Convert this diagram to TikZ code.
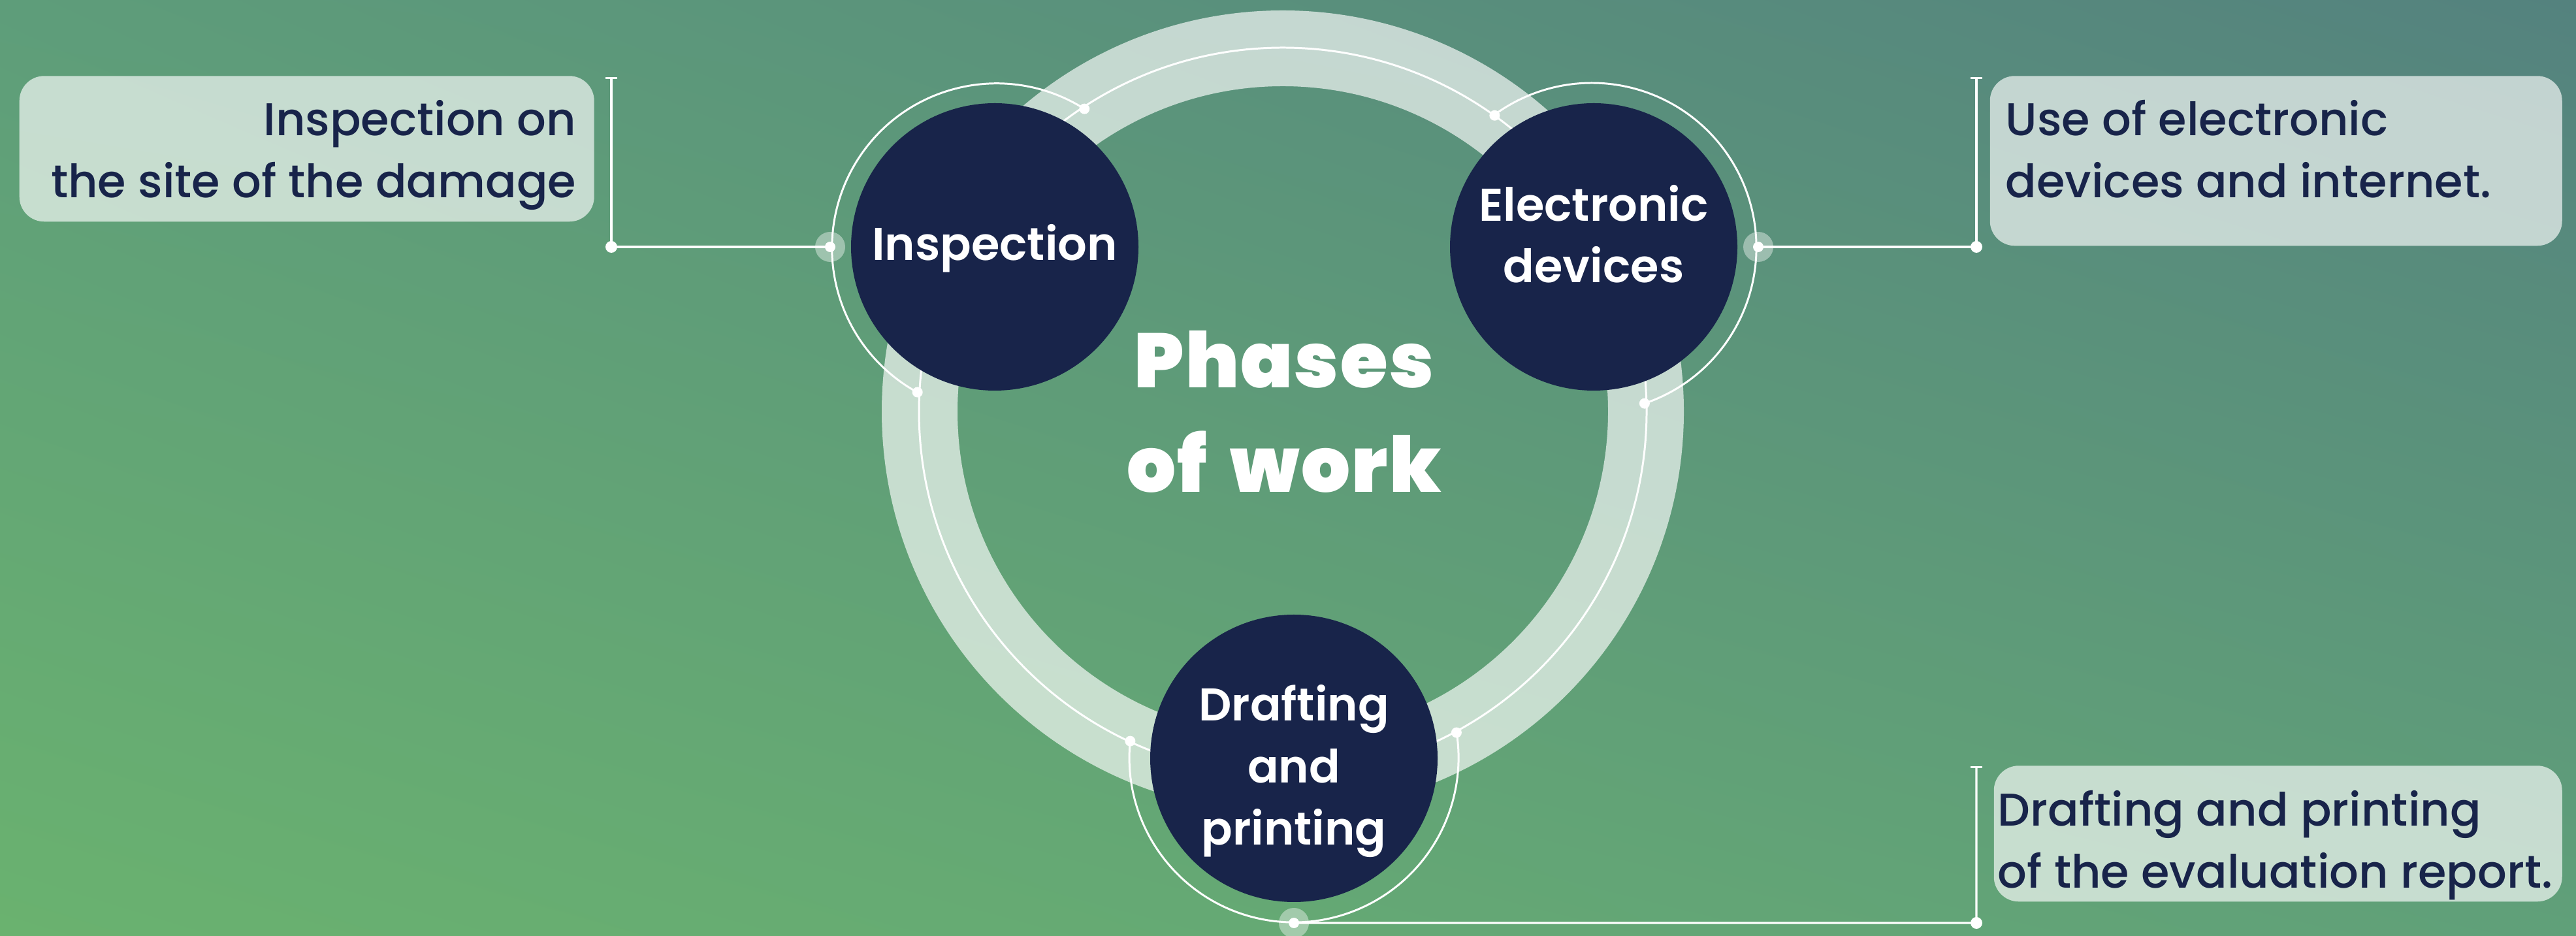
\documentclass[tikz,border=0pt]{standalone}
\usepackage{fontspec}
\setmainfont{Poppins}
\newfontfamily\notefont{Poppins Medium}
\newfontfamily\phasefont{Poppins SemiBold}
\newfontfamily\titlefont{Poppins Black}[LetterSpace=2,WordSpace=1.6]
\usetikzlibrary{arrows.meta,shadings}

\definecolor{navy}{HTML}{18244A}
\definecolor{bgtl}{RGB}{94,157,122}
\definecolor{bgtr}{RGB}{84,130,126}
\definecolor{bgbl}{RGB}{106,178,111}
\definecolor{bgbr}{RGB}{96,160,121}

\begin{document}
\begin{tikzpicture}[
		phase/.style={circle, fill=navy, minimum size=4.4cm, inner sep=0pt, outer sep=0.32cm,
			text=white, align=center, font=\phasefont\fontsize{20}{27}\selectfont},
		ringline/.style={draw=white, line width=0.85pt},
		link/.style={draw=white, line width=0.95pt},
		halo/.style={circle, fill=white, fill opacity=0.4, minimum size=0.46cm, inner sep=0pt},
		notebox/.style={rectangle, rounded corners=0.38cm, fill=white, fill opacity=0.65, inner sep=0pt},
		note/.style={text=navy, font=\notefont\fontsize{20}{27}\selectfont, inner sep=0pt}]
		%Sfondo
		\useasboundingbox (0,0) rectangle (39.44,14.32);
		\shade [upper left=bgtl, upper right=bgtr, lower left=bgbl, lower right=bgbr] (0,0) rectangle (39.44,14.32);
		%Anello
		\coordinate (hub) at (19.64,8.02);
		\draw [white, draw opacity=0.65, line width=1.16cm] (hub) circle (5.56);
		\draw [ringline] (hub) circle (5.57);
		%Fasi
		\node [phase] (ins) at (15.23,10.54) {\rule{0pt}{0.6cm}Inspection};
		\node [phase] (ele) at (24.40,10.54) {Electronic\\devices\rule[-0.4cm]{0pt}{0.4cm}};
		\node [phase] (dra) at (19.81,2.71) {\rule{0pt}{0.94cm}Drafting\\and\\printing};
		\node [text=white, align=center, font=\titlefont\fontsize{33.5}{45.5}\selectfont] (title) at (19.66,8.02) {Phases\\of work};
		%Archi
		\draw [ringline] (ins.57.74) arc [start angle=57.74, end angle=242.78, radius=2.52];
		\draw [ringline] (ele.288.71) arc [start angle=-71.29, end angle=127.09, radius=2.52];
		\draw [ringline] (dra.174.21) arc [start angle=174.21, end angle=369.45, radius=2.52];
		\foreach \a in {57.74,242.78} \fill [white] (ins.\a) circle (0.08);
		\foreach \a in {288.71,127.09} \fill [white] (ele.\a) circle (0.08);
		\foreach \a in {174.21,9.45} \fill [white] (dra.\a) circle (0.08);
		%Collegamenti
		\node [halo] (inshalo) at (ins.west) {};
		\node [halo] (elehalo) at (ele.east) {};
		\node [halo] (drahalo) at (dra.south) {};
		\coordinate (insbend) at (9.36,10.54);
		\coordinate (instop) at (9.36,13.14);
		\coordinate (elebend) at (30.26,10.54);
		\coordinate (eletop) at (30.26,13.14);
		\coordinate (drabend) at (30.26,0.19);
		\coordinate (dratop) at (30.26,2.59);
		\draw [link, -{Bar[width=5pt]}] (inshalo.center) -- (insbend) -- (instop);
		\draw [link, -{Bar[width=5pt]}] (elehalo.center) -- (elebend) -- (eletop);
		\draw [link, -{Bar[width=5pt]}] (drahalo.center) -- (drabend) -- (dratop);
		\foreach \p in {inshalo,elehalo,drahalo} \fill [white] (\p) circle (0.08);
		\foreach \p in {insbend,elebend,drabend} \fill [white] (\p) circle (0.09);
		%Note
		\node [notebox, minimum width=8.80cm, minimum height=2.23cm, anchor=south west] (insbox) at (0.29,10.92) {};
		\node [note, anchor=base east] (insnote1) at (8.83,12.24) {Inspection on};
		\node [note, anchor=base east] (insnote2) at (8.83,11.29) {the site of the damage};
		\node [notebox, minimum width=8.76cm, minimum height=2.60cm, anchor=south west] (elebox) at (30.46,10.55) {};
		\node [note, anchor=base west] (elenote1) at (30.70,12.24) {Use of electronic};
		\node [note, anchor=base west] (elenote2) at (30.70,11.29) {devices and internet.};
		\node [notebox, minimum width=8.70cm, minimum height=2.08cm, anchor=south west] (drabox) at (30.52,0.51) {};
		\node [note, anchor=base west] (dranote1) at (30.58,1.68) {Drafting and printing};
		\node [note, anchor=base west] (dranote2) at (30.58,0.73) {of the evaluation report.};
	\end{tikzpicture}
\end{document}
